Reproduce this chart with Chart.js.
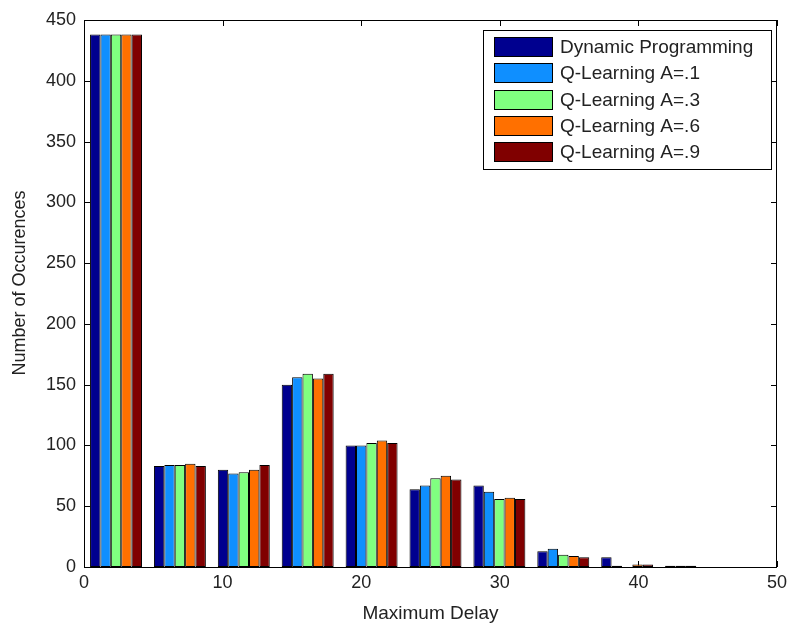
<!DOCTYPE html>
<html><head><meta charset="utf-8">
<script src="https://cdn.jsdelivr.net/npm/chart.js@4.4.0/dist/chart.umd.min.js"></script>
<style>html,body{margin:0;padding:0;background:#fff;}#wrap{width:793px;height:626px;}</style>
</head><body><div id="wrap"><canvas id="c" width="793" height="626"></canvas></div>
<script>
const binCenters = [2.31, 6.92, 11.53, 16.14, 20.75, 25.36, 29.97, 34.58, 39.19, 43.80];
const dynamicProgramming = [438, 83, 80, 150, 100, 64, 67, 13, 8, 1];
const qLearningA1 = [438, 84, 77, 156, 100, 67, 62, 15, 1, 1];
const qLearningA3 = [438, 84, 78, 159, 102, 73, 56, 10, 0, 1];
const qLearningA6 = [438, 85, 80, 155, 104, 75, 57, 9, 2, 0];
const qLearningA9 = [438, 83, 84, 159, 102, 72, 56, 8, 2, 0];
const seriesLabels = ['Dynamic Programming', 'Q-Learning A=.1', 'Q-Learning A=.3', 'Q-Learning A=.6', 'Q-Learning A=.9'];
const seriesColors = ['#00008F', '#0F8FFF', '#80FF80', '#FF7000', '#800000'];
const xTickValues = [0, 10, 20, 30, 40, 50];
const yTickValues = [0, 50, 100, 150, 200, 250, 300, 350, 400, 450];
const xTitle = 'Maximum Delay';
const yTitle = 'Number of Occurences';

const seriesValues = [dynamicProgramming, qLearningA1, qLearningA3, qLearningA6, qLearningA9];
const FONT = "'Liberation Sans', Arial, Helvetica, sans-serif";
const TXT = '#222';

const datasets = seriesValues.map((vals, s) => ({
  label: seriesLabels[s],
  data: binCenters.map((x, i) => ({x: x, y: vals[i]})),
  backgroundColor: seriesColors[s],
  borderColor: '#000',
  borderWidth: 1,
  borderSkipped: false,
  categoryPercentage: 0.813,
  barPercentage: 1.0
}));

const tickMarks = {
  id: 'tickMarks',
  beforeDatasetsDraw(chart) {
    const {ctx, chartArea: a, scales: {x, y}} = chart;
    ctx.save();
    ctx.strokeStyle = '#000';
    ctx.lineWidth = 1;
    ctx.beginPath();
    xTickValues.forEach(v => {
      const p = Math.round(x.getPixelForValue(v)) + 0.5;
      ctx.moveTo(p, a.bottom); ctx.lineTo(p, a.bottom - 6);
      ctx.moveTo(p, a.top); ctx.lineTo(p, a.top + 6);
    });
    yTickValues.forEach(v => {
      const p = Math.round(y.getPixelForValue(v)) + 0.5;
      ctx.moveTo(a.left, p); ctx.lineTo(a.left + 6, p);
      ctx.moveTo(a.right, p); ctx.lineTo(a.right - 6, p);
    });
    ctx.stroke();
    ctx.restore();
  },
  afterDatasetsDraw(chart) {
    const {ctx, chartArea: a} = chart;
    ctx.save();
    ctx.strokeStyle = '#000';
    ctx.lineWidth = 1;
    ctx.strokeRect(Math.round(a.left) + 0.5, Math.round(a.top) + 0.5,
                   Math.round(a.right - a.left) - 1, Math.round(a.bottom - a.top));
    ctx.restore();
  },
  afterDraw(chart) {
    const {ctx} = chart;
    ctx.save();
    // y title
    ctx.translate(20, 283);
    ctx.rotate(-Math.PI / 2);
    ctx.font = '18px ' + FONT;
    ctx.fillStyle = TXT;
    ctx.textAlign = 'center';
    ctx.textBaseline = 'middle';
    ctx.fillText(yTitle, 0, 0);
    ctx.restore();
    // legend
    ctx.save();
    ctx.fillStyle = '#fff';
    ctx.fillRect(483, 30, 289, 140);
    ctx.strokeStyle = '#000';
    ctx.lineWidth = 1;
    ctx.strokeRect(483.5, 30.5, 288, 139);
    ctx.font = '19px ' + FONT;
    ctx.textAlign = 'left';
    ctx.textBaseline = 'middle';
    chart.data.datasets.forEach((ds, i) => {
      const top = Math.round(37 + 26.35 * i);
      ctx.fillStyle = ds.backgroundColor;
      ctx.fillRect(494, top, 59, 20);
      ctx.strokeRect(494.5, top + 0.5, 58, 19);
      ctx.fillStyle = TXT;
      ctx.fillText(ds.label, 560, top + 11);
    });
    ctx.restore();
  }
};

Chart.defaults.font.family = FONT;
Chart.defaults.color = TXT;

new Chart(document.getElementById('c'), {
  type: 'bar',
  data: {datasets: datasets},
  options: {
    responsive: false,
    devicePixelRatio: 1,
    animation: false,
    layout: {padding: {top: 20, right: 16, bottom: 0, left: 0}},
    plugins: {legend: {display: false}, tooltip: {enabled: false}},
    scales: {
      x: {
        type: 'linear',
        min: 0, max: 50,
        offset: false,
        grid: {display: false, drawTicks: false},
        border: {display: false},
        afterBuildTicks: s => { s.ticks = xTickValues.map(v => ({value: v})); },
        ticks: {font: {size: 18}, padding: 5, autoSkip: false, maxRotation: 0},
        title: {display: true, text: xTitle, font: {size: 19}, padding: {top: 0, bottom: 1}},
        afterFit: s => { s.height = 59; }
      },
      y: {
        type: 'linear',
        min: 0, max: 450,
        grid: {display: false, drawTicks: false},
        border: {display: false},
        afterBuildTicks: s => { s.ticks = yTickValues.map(v => ({value: v})); },
        ticks: {font: {size: 18}, padding: 8},
        afterFit: s => { s.width = 84; }
      }
    }
  },
  plugins: [tickMarks]
});
</script>
</body></html>
